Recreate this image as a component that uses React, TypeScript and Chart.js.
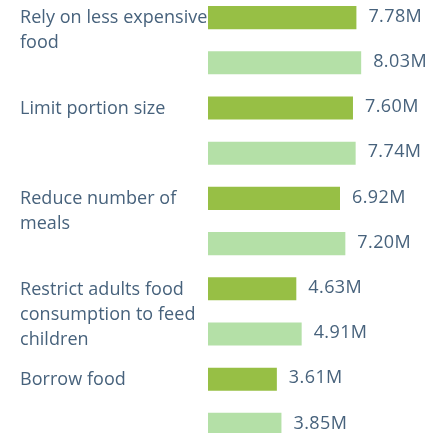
import React, { useEffect, useRef } from "react";
import { Chart, registerables } from "chart.js";

Chart.register(...registerables);

const categories: string[][] = [
  ["Rely on less expensive", "food", ""],
  ["Limit portion size", "", ""],
  ["Reduce number of", "meals", ""],
  ["Restrict adults food", "consumption to feed", "children"],
  ["Borrow food", "", ""],
];
const seriesDark: number[] = [7.78, 7.6, 6.92, 4.63, 3.61];
const seriesLight: number[] = [8.03, 7.74, 7.2, 4.91, 3.85];

const TEXT = "#47627c";
const FONT = "'Open Sans', sans-serif";

const spacing = {
  id: "spacing",
  beforeDraw(chart: any) {
    chart.ctx.letterSpacing = "0.05px";
  },
};

const valueLabels = {
  id: "valueLabels",
  afterDatasetsDraw(chart: any) {
    const ctx = chart.ctx;
    ctx.save();
    ctx.letterSpacing = "0.4px";
    ctx.font = `18px ${FONT}`;
    ctx.fillStyle = TEXT;
    ctx.textAlign = "left";
    ctx.textBaseline = "middle";
    chart.data.datasets.forEach((ds: any, di: number) => {
      const meta = chart.getDatasetMeta(di);
      meta.data.forEach((bar: any, i: number) => {
        ctx.fillText(`${Number(ds.data[i]).toFixed(2)}M`, bar.x + 12, bar.y - 1);
      });
    });
    ctx.restore();
  },
};

export default function App() {
  const ref = useRef<HTMLCanvasElement | null>(null);
  useEffect(() => {
    document.body.style.margin = "0";
    const chart = new Chart(ref.current as HTMLCanvasElement, {
      type: "bar",
      data: {
        labels: categories,
        datasets: [
          { data: seriesDark, backgroundColor: "#97bf45", categoryPercentage: 1, barPercentage: 0.51 },
          { data: seriesLight, backgroundColor: "#b4e0a7", categoryPercentage: 1, barPercentage: 0.51 },
        ],
      },
      options: {
        indexAxis: "y",
        animation: false,
        responsive: false,
        maintainAspectRatio: false,
        layout: { padding: { left: 20, right: 0, top: 0, bottom: 0 } },
        plugins: { legend: { display: false }, tooltip: { enabled: false } },
        scales: {
          x: { display: false, min: 0, max: 11.9 },
          y: {
            grid: { display: false, drawTicks: false },
            border: { display: false },
            afterFit: (s: any) => {
              s.width = 188;
              s.paddingTop = 0;
              s.paddingBottom = 0;
            },
            ticks: {
              crossAlign: "far",
              padding: 0,
              labelOffset: 3,
              color: TEXT,
              font: { family: FONT, size: 18, lineHeight: 25 / 18 },
            },
          },
        },
      },
      plugins: [spacing, valueLabels],
    });
    return () => chart.destroy();
  }, []);
  return (
    <div style={{ position: "fixed", left: 0, top: 0, width: 435, height: 433, overflow: "hidden", background: "#fff" }}>
      <canvas ref={ref} width={435} height={452} style={{ position: "absolute", left: 0, top: -5, width: 435, height: 452 }} />
    </div>
  );
}
